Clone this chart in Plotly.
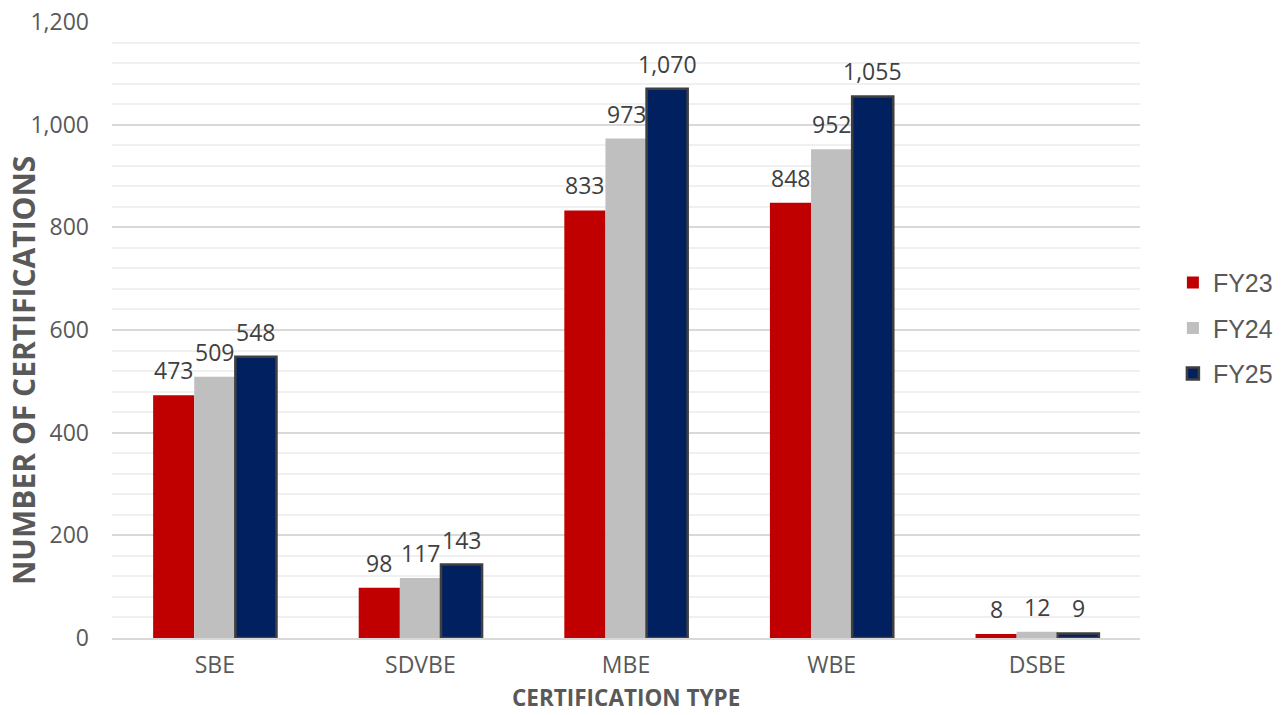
import plotly.graph_objects as go

categories = ["SBE", "SDVBE", "MBE", "WBE", "DSBE"]
fy23 = [473, 98, 833, 848, 8]
fy24 = [509, 117, 973, 952, 12]
fy25 = [548, 143, 1070, 1055, 9]

series = [
    ("FY23", fy23, "#C00000", None),
    ("FY24", fy24, "#BFBFBF", None),
    ("FY25", fy25, "#002060", "#404040"),
]

BARGAP = 0.4
bar_w = (1 - BARGAP) / len(series)  # width of one bar in category units

fig = go.Figure()
for k, (name, vals, color, edge) in enumerate(series):
    fig.add_trace(go.Bar(
        name=name,
        x=categories,
        y=vals,
        legendgroup=name,
        marker=dict(color=color,
                    line=dict(color=edge or color, width=2.5 if edge else 0)),
    ))
    # value labels above each bar
    offset = (k - (len(series) - 1) / 2) * bar_w
    for i, v in enumerate(vals):
        fig.add_annotation(
            x=i + offset, y=v, xref="x", yref="y",
            text=f"{v:,}", showarrow=False,
            xanchor="center", yanchor="bottom", yshift=7,
            font=dict(family="Open Sans", size=23, color="#404040"),
        )

# axis titles
fig.add_annotation(
    text="<b>NUMBER OF CERTIFICATIONS</b>", textangle=-90,
    xref="paper", yref="paper", x=-0.0866, y=0.435,
    xanchor="center", yanchor="middle", showarrow=False,
    font=dict(family="Open Sans", size=30, color="#595959"),
)
fig.add_annotation(
    text="<b>CERTIFICATION TYPE</b>",
    xref="paper", yref="paper", x=0.5, y=-0.1235,
    xanchor="center", yanchor="bottom", showarrow=False, borderpad=0,
    font=dict(family="Open Sans", size=22.5, color="#595959"),
)

fig.update_layout(
    width=1281, height=715,
    margin=dict(l=112, r=141, t=22, b=77, autoexpand=False),
    plot_bgcolor="white", paper_bgcolor="white",
    barmode="group", bargap=BARGAP, bargroupgap=0,
    font=dict(family="Open Sans", color="#595959"),
    legend=dict(
        x=1.032, y=0.503, xanchor="left", yanchor="middle",
        font=dict(family="Liberation Sans", size=25, color="#595959"),
        traceorder="grouped", tracegroupgap=10,
    ),
)
fig.update_xaxes(
    tickfont=dict(size=23, color="#595959"),
    ticklabelstandoff=6,
    showline=True, linecolor="#d9d9d9", linewidth=1.5,
    ticks="",
)
fig.update_yaxes(
    range=[0, 1200], dtick=200, tickformat=",",
    tickfont=dict(size=23, color="#595959"),
    ticklabelstandoff=22,
    showgrid=True, gridcolor="#d9d9d9", gridwidth=1.5,
    minor=dict(dtick=40, showgrid=True, gridcolor="#f0f0f0", gridwidth=1.5),
    zeroline=False, ticks="",
)

fig.write_html("out.html")
